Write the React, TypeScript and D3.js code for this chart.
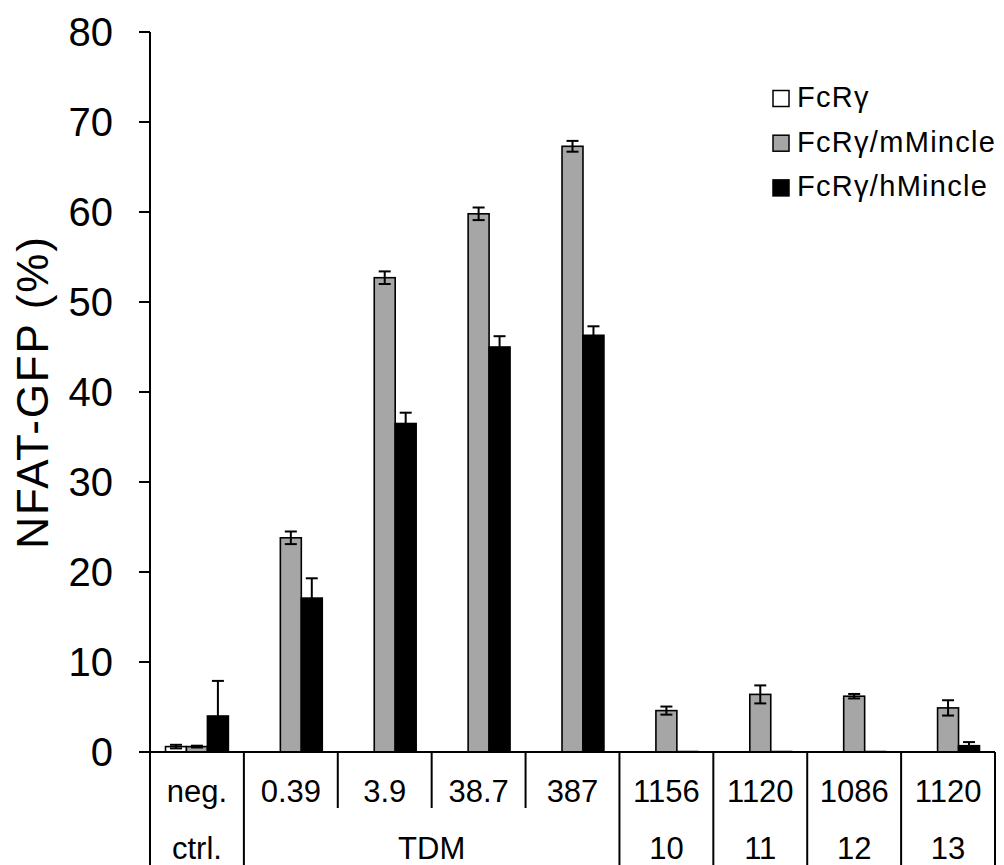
import React from "react";
import * as d3 from "d3";

// row 1 of the table under the axis (one per group)
const doses = ["neg.", "0.39", "3.9", "38.7", "387", "1156", "1120", "1086", "1120"];
// row 2: label and how many groups it spans
const compounds = [
  { label: "ctrl.", span: 1 },
  { label: "TDM", span: 4 },
  { label: "10", span: 1 },
  { label: "11", span: 1 },
  { label: "12", span: 1 },
  { label: "13", span: 1 },
];

const seriesNames = ["FcRγ", "FcRγ/mMincle", "FcRγ/hMincle"];
const seriesColors = ["#ffffff", "#a6a6a6", "#000000"];

const fcrg = [0.6, 0, 0, 0, 0, 0, 0, 0, 0];
const fcrgErr = [0.2, 0, 0, 0, 0, 0, 0, 0, 0];
const mMincle = [0.6, 23.8, 52.7, 59.8, 67.3, 4.6, 6.4, 6.2, 4.9];
const mMincleErr = [0.1, 0.7, 0.7, 0.7, 0.6, 0.45, 1.0, 0.25, 0.85];
const hMincle = [4.0, 17.1, 36.5, 45.0, 46.3, 0.05, 0.05, 0.05, 0.7];
const hMincleErr = [3.9, 2.2, 1.2, 1.2, 1.0, 0, 0, 0, 0.4];

const yTicks = [0, 10, 20, 30, 40, 50, 60, 70, 80];

const W = 1004;
const H = 865;
const FONT = "'Liberation Sans', Arial, sans-serif";

export default function App() {
  const left = 150;
  const right = 995;
  const top = 32;
  const base = 752;

  const values = [fcrg, mMincle, hMincle];
  const errors = [fcrgErr, mMincleErr, hMincleErr];

  const x = d3
    .scaleBand<number>()
    .domain(doses.map((_, i) => i))
    .range([left, right])
    .padding(0);
  const xs = d3
    .scaleBand<number>()
    .domain([0, 1, 2])
    .range([0, x.bandwidth()])
    .paddingInner(0)
    .paddingOuter(0.74);
  const y = d3.scaleLinear().domain([0, 80]).range([base, top]);

  const step = x.step();
  const boundary = (i: number) => left + i * step;

  // which boundaries run the full table height
  const fullBounds = new Set<number>([0]);
  let acc = 0;
  compounds.forEach((c) => {
    acc += c.span;
    fullBounds.add(acc);
  });

  let start = 0;
  const row2 = compounds.map((c) => {
    const cx = boundary(start) + (c.span * step) / 2;
    start += c.span;
    return { ...c, cx };
  });

  const capW = 12;

  return (
    <div style={{ position: "absolute", left: 0, top: 0 }}>
      <svg width={W} height={H} style={{ display: "block", fontFamily: FONT }}>
        <rect width={W} height={H} fill="#fff" />

        {/* y axis */}
        <g>
          <line x1={left} x2={left} y1={y(80)} y2={H} stroke="#000" strokeWidth={2} />
          {yTicks.map((t) => (
            <g key={t} transform={`translate(0,${y(t)})`}>
              <line x1={139} x2={left} stroke="#000" strokeWidth={2} />
              <text x={113} dy="0.35em" textAnchor="end" fontSize={40} fill="#000">
                {t}
              </text>
            </g>
          ))}
          <text
            transform={`translate(48,392) rotate(-90)`}
            textAnchor="middle"
            fontSize={44}
            letterSpacing={1.8}
            fill="#000"
          >
            NFAT-GFP (%)
          </text>
        </g>

        {/* bars */}
        {values.map((vals, s) => (
          <g key={s}>
            {vals.map((v, i) => {
              const bx = (x(i) as number) + (xs(s) as number);
              return (
                <rect
                  key={i}
                  x={bx}
                  y={y(v)}
                  width={xs.bandwidth()}
                  height={base - y(v)}
                  fill={seriesColors[s]}
                  stroke="#000"
                  strokeWidth={1.6}
                />
              );
            })}
          </g>
        ))}

        {/* error bars */}
        {values.map((vals, s) => (
          <g key={s} stroke="#000" strokeWidth={2}>
            {vals.map((v, i) => {
              const e = errors[s][i];
              if (!e) return null;
              const cx = (x(i) as number) + (xs(s) as number) + xs.bandwidth() / 2;
              const lo = Math.max(0, v - e);
              return (
                <g key={i}>
                  <line x1={cx} x2={cx} y1={y(lo)} y2={y(v + e)} />
                  <line x1={cx - capW / 2} x2={cx + capW / 2} y1={y(v + e)} y2={y(v + e)} />
                  <line x1={cx - capW / 2} x2={cx + capW / 2} y1={y(lo)} y2={y(lo)} />
                </g>
              );
            })}
          </g>
        ))}

        {/* baseline */}
        <line x1={139} x2={right} y1={base} y2={base} stroke="#000" strokeWidth={2} />

        {/* table lines */}
        {d3.range(doses.length + 1).map((i) => (
          <line
            key={i}
            x1={boundary(i)}
            x2={boundary(i)}
            y1={base}
            y2={fullBounds.has(i) ? H : 808}
            stroke="#000"
            strokeWidth={2}
          />
        ))}

        {/* table text */}
        {doses.map((d, i) => (
          <text
            key={i}
            x={(x(i) as number) + step / 2}
            y={802}
            textAnchor="middle"
            fontSize={31}
            fill="#000"
          >
            {d}
          </text>
        ))}
        {row2.map((c, i) => (
          <text key={i} x={c.cx} y={859} textAnchor="middle" fontSize={31} fill="#000">
            {c.label}
          </text>
        ))}

        {/* legend */}
        {seriesNames.map((n, i) => {
          const by = 107 + i * 44.7;
          return (
            <g key={n}>
              <rect
                x={773}
                y={by - 16.5}
                width={16}
                height={16}
                fill={seriesColors[i]}
                stroke="#000"
                strokeWidth={1.5}
              />
              <text x={797} y={by} fontSize={29} letterSpacing={1.3} fill="#000">
                {n}
              </text>
            </g>
          );
        })}
      </svg>
    </div>
  );
}
